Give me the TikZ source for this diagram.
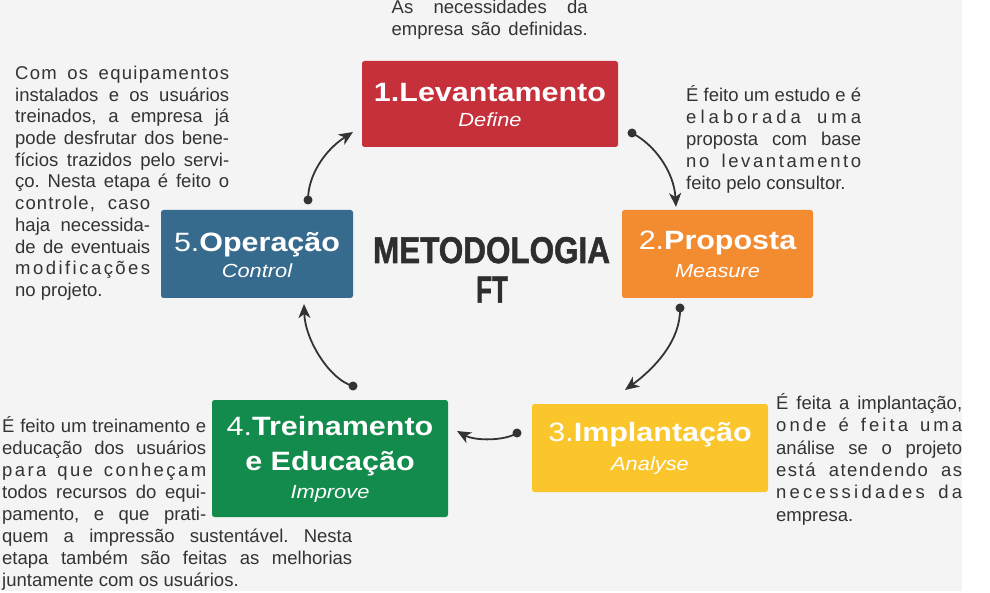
\documentclass[tikz,border=0pt]{standalone}
\usepackage{fontspec}
\setmainfont{Liberation Sans}
\newfontfamily\heavyfont{Liberation Sans}[FakeBold=1.5]
\usepackage{graphicx}
\usetikzlibrary{arrows.meta}
\frenchspacing
\definecolor{bggray}{HTML}{F4F4F4}
\definecolor{txt}{HTML}{333333}
\definecolor{arrowc}{HTML}{333333}
\definecolor{cred}{HTML}{C5303B}
\definecolor{corange}{HTML}{F38B31}
\definecolor{cyellow}{HTML}{FAC62B}
\definecolor{cgreen}{HTML}{138B4C}
\definecolor{cblue}{HTML}{376B8E}
\newcommand\jl[2]{\makebox[#1][s]{#2}}
\newcommand\jls[3]{\makebox[#1][s]{\addfontfeature{LetterSpace=#2}#3}}
\newcommand\nl[1]{\scalebox{1.15}[1]{#1}}
\begin{document}
\begin{tikzpicture}[x=1pt,y=-1pt,
  body/.style={font=\fontsize{18.5}{22}\selectfont, text=txt, anchor=base west, inner sep=0pt},
  stepbox/.style={rectangle, rounded corners=2.5pt, inner sep=0pt},
  boxtitle/.style={font=\fontsize{26.5}{30}\selectfont, text=white, anchor=base, inner sep=0pt},
  boxsub/.style={font=\fontsize{19}{22}\selectfont\itshape, text=white, anchor=base, inner sep=0pt},
  bigtitle/.style={font=\heavyfont\bfseries\fontsize{36}{40}\selectfont, text=txt!90!black, anchor=base, inner sep=0pt},
  conn/.style={line width=1.8pt, draw=arrowc, -{Stealth[length=14pt,width=12pt,inset=4pt]}},
  dot/.style={fill=arrowc}
]
\useasboundingbox (0,0) rectangle (990,593);
\fill[white] (0,0) rectangle (990,593);
\fill[bggray] (0,0) rectangle (962,591);

% boxes
\node[stepbox, fill=cred, minimum width=256pt, minimum height=86pt] (b1) at (490,104) {};
\node[stepbox, fill=corange, minimum width=191pt, minimum height=88pt] (b2) at (717.5,254) {};
\node[stepbox, fill=cyellow, minimum width=236pt, minimum height=88pt] (b3) at (650,448) {};
\node[stepbox, fill=cgreen, minimum width=236pt, minimum height=117pt] (b4) at (330,458.5) {};
\node[stepbox, fill=cblue, minimum width=192pt, minimum height=88pt] (b5) at (257,254) {};

% box texts
\node[boxtitle] (b1t) at (490,101.7) {\nl{\bfseries 1.Levantamento}};
\node[boxsub] (b1s) at (490,127) {\nl{Define}};
\node[boxtitle] (b2t) at (717.5,250) {\nl{2.\bfseries Proposta}};
\node[boxsub] (b2s) at (717.5,278) {\nl{Measure}};
\node[boxtitle] (b3t) at (650,441.7) {\nl{3.\bfseries Implantação}};
\node[boxsub] (b3s) at (650,470) {\nl{Analyse}};
\node[boxtitle] (b4t) at (330,435) {\nl{4.\bfseries Treinamento}};
\node[boxtitle] (b4u) at (330,470) {\nl{\bfseries e Educação}};
\node[boxsub] (b4s) at (330,498) {\nl{Improve}};
\node[boxtitle] (b5t) at (257,251.7) {\nl{5.\bfseries Operação}};
\node[boxsub] (b5s) at (257,278) {\nl{Control}};

% center title
\node[bigtitle] (mt1) at (491.5,263) {\resizebox{237pt}{26pt}{METODOLOGIA}};
\node[bigtitle] (mt2) at (492,302.7) {\resizebox{32pt}{26pt}{FT}};

% top text
\node[body] (ta) at (391.5,14) {\jl{196pt}{As necessidades da}};
\node[body] (tb) at (391.5,36) {\jl{196pt}{empresa são definidas.}};

% text for step 5
\node[body] (l0) at (15,79.5) {\jls{214pt}{7}{Com os equipamentos}};
\node[body] (l1) at (15,101.2) {\jl{214pt}{instalados e os usuários}};
\node[body] (l2) at (15,122.9) {\jl{214pt}{treinados, a empresa já}};
\node[body] (l3) at (15,144.6) {\jl{214pt}{pode desfrutar dos bene-}};
\node[body] (l4) at (15,166.3) {\jl{214pt}{fícios trazidos pelo servi-}};
\node[body] (l5) at (15,188) {\jl{214pt}{ço. Nesta etapa é feito o}};
\node[body] (l6) at (15,209.7) {\jls{135pt}{6}{controle, caso}};
\node[body] (l7) at (15,231.4) {\jl{135pt}{haja necessida-}};
\node[body] (l8) at (15,253.1) {\jl{135pt}{de de eventuais}};
\node[body] (l9) at (15,274.8) {\jls{135pt}{13.3}{modificações}};
\node[body] (l10) at (15,296.5) {no projeto.};

% text for step 2
\node[body] (r0) at (686,102) {\jl{175pt}{É feito um estudo e é}};
\node[body] (r1) at (686,124) {\jls{175pt}{22}{elaborada uma}};
\node[body] (r2) at (686,146) {\jl{175pt}{proposta com base}};
\node[body] (r3) at (686,168) {\jls{175pt}{14}{no levantamento}};
\node[body] (r4) at (686,190) {feito pelo consultor.};

% text for step 3
\node[body] (s0) at (776,409.5) {\jl{186pt}{É feita a implantação,}};
\node[body] (s1) at (776,431.8) {\jls{186pt}{16.5}{onde é feita uma}};
\node[body] (s2) at (776,454.1) {\jl{186pt}{análise se o projeto}};
\node[body] (s3) at (776,476.4) {\jls{186pt}{8}{está atendendo as}};
\node[body] (s4) at (776,498.7) {\jls{186pt}{17.5}{necessidades da}};
\node[body] (s5) at (776,521) {empresa.};

% text for step 4
\node[body] (u0) at (2,432) {\jl{204pt}{É feito um treinamento e}};
\node[body] (u1) at (2,454.1) {\jl{204pt}{educação dos usuários}};
\node[body] (u2) at (2,476.2) {\jls{204pt}{13}{para que conheçam}};
\node[body] (u3) at (2,498.3) {\jl{204pt}{todos recursos do equi-}};
\node[body] (u4) at (2,520.4) {\jl{204pt}{pamento, e que prati-}};
\node[body] (u5) at (2,542.5) {\jl{350pt}{quem a impressão sustentável. Nesta}};
\node[body] (u6) at (2,564.6) {\jl{350pt}{etapa também são feitas as melhorias}};
\node[body] (u7) at (2,586.7) {juntamente com os usuários.};

% connector end points
\coordinate (s12) at (632,133);
\coordinate (e12) at (676,207);
\coordinate (s23) at (680,308);
\coordinate (e23) at (625,390);
\coordinate (s34) at (517,433);
\coordinate (e34) at (457,431);
\coordinate (s45) at (353,386);
\coordinate (e45) at (304,304);
\coordinate (s51) at (308,200);
\coordinate (e51) at (353,132);

\draw[conn] (s12) .. controls (655,145) and (674,172) .. (e12);
\draw[conn] (s23) .. controls (681,340) and (655,368) .. (e23);
\draw[conn] (s34) .. controls (505,441) and (475,441) .. (e34);
\draw[conn] (s45) .. controls (330,380) and (305,340) .. (e45);
\draw[conn] (s51) .. controls (308,175) and (325,150) .. (e51);
\foreach \p in {s12,s23,s34,s45,s51} \fill[dot] (\p) circle (4.5pt);
\end{tikzpicture}
\end{document}
